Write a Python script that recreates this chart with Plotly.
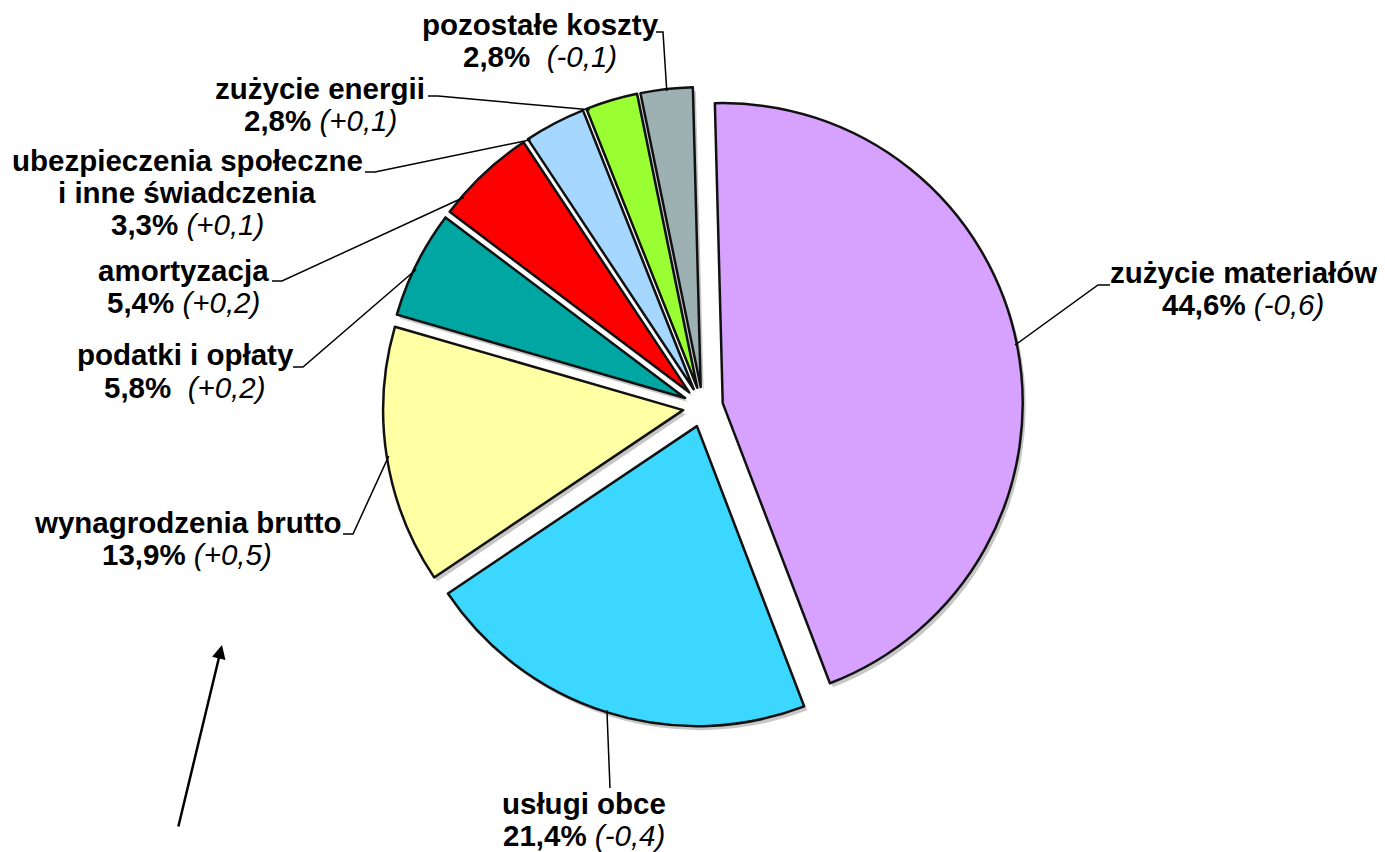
"""
Struktura kosztów - wykres kołowy z etykietami i liniami odniesienia
"""

import numpy as np
import plotly.graph_objects as go

W, H = 1385, 852
OFF = 8  # domyślny margines strony (body) przesuwa wykres

# dane
categories = ["zużycie materiałów", "usługi obce", "wynagrodzenia brutto",
              "podatki i opłaty", "amortyzacja",
              "ubezpieczenia społeczne i inne świadczenia",
              "zużycie energii", "pozostałe koszty"]
shares = [44.6, 21.4, 13.9, 5.8, 5.4, 3.3, 2.8, 2.8]
changes = ["-0,6", "-0,4", "+0,5", "+0,2", "+0,2", "+0,1", "+0,1", "-0,1"]
name_lines = [["zużycie materiałów"], ["usługi obce"], ["wynagrodzenia brutto"],
              ["podatki i opłaty"], ["amortyzacja"],
              ["ubezpieczenia społeczne", "i inne świadczenia"],
              ["zużycie energii"], ["pozostałe koszty"]]
pct_gap = ["", "", "", "&nbsp;", "", "", "", "&nbsp;"]

colors = ["#D6A2FE", "#3CD7FF", "#FFFFA3", "#00A6A2",
          "#FF0000", "#A6D8FF", "#99FF33", "#9DB1B3"]

# geometria wykresu (piksele okna)
cx, cy = 703, 407
radius = 300
pull = 0.067
rotation = -1.5

# położenie etykiet: środek pierwszej linii, punkt startu linii odniesienia
label_pos = [(1243, 272), (584, 803), (187, 522), (185, 355),
             (183, 270), (187, 160), (320, 88), (540, 24)]
leader_start = [(1110, 285), (610, 788), (343, 534), (293, 367),
                (272, 281), (365, 172), (428, 96), (656, 32)]
leader_elbow = [(1098, 285), None, (353, 534), (303, 367),
                (282, 281), (375, 172), (438, 96), (663, 32)]
# miejsce zaczepienia na łuku (ułamek rozpiętości wycinka)
leader_frac = [0.5, 0.5, 0.5, 0.45, 0.2, 0.03, 0.05, 0.5]
line_step = 32


def px(x):
    return (x - OFF) / W


def py(y):
    return 1 - (y - OFF) / H


box = radius * (1 + pull)
fig = go.Figure()

# lekki cień pod wykresem
fig.add_trace(go.Pie(
    values=shares, labels=categories, sort=False, direction="clockwise",
    rotation=rotation, pull=[pull] * len(shares), textinfo="none",
    hoverinfo="skip", showlegend=False,
    marker=dict(colors=["rgba(0,0,0,0.22)"] * len(shares), line=dict(width=0)),
    domain=dict(x=[px(cx + 3 - box), px(cx + 3 + box)],
                y=[py(cy + 4 + box), py(cy + 4 - box)]),
))

fig.add_trace(go.Pie(
    values=shares, labels=categories, sort=False, direction="clockwise",
    rotation=rotation, pull=[pull] * len(shares), textinfo="none",
    hoverinfo="label+percent", showlegend=False,
    marker=dict(colors=colors, line=dict(color="#111111", width=2.5)),
    domain=dict(x=[px(cx - box), px(cx + box)],
                y=[py(cy + box), py(cy - box)]),
))

# kąty wycinków
total = sum(shares)
bounds = rotation + np.cumsum([0] + shares) / total * 360
mids = (bounds[:-1] + bounds[1:]) / 2
spans = bounds[1:] - bounds[:-1]

font = dict(family="Liberation Sans, Arial, sans-serif", size=29.5, color="black")

for i, lines in enumerate(name_lines):
    x0, y0 = label_pos[i]
    pct = f"{shares[i]:.1f}".replace(".", ",")
    texts = [f"<b>{t}</b>" for t in lines]
    texts.append(f"<b>{pct}%</b>{pct_gap[i]} <i>({changes[i]})</i>")
    for k, t in enumerate(texts):
        fig.add_annotation(x=px(x0), y=py(y0 + k * line_step), xref="paper", yref="paper",
                           text=t, showarrow=False, xanchor="center", yanchor="middle",
                           font=font)

    # linia odniesienia do zewnętrznego łuku wycinka
    m = np.deg2rad(mids[i])
    a = np.deg2rad(bounds[i] + leader_frac[i] * spans[i])
    shift = radius * pull
    rr = radius - 2
    ex = cx + shift * np.sin(m) + rr * np.sin(a)
    ey = cy - shift * np.cos(m) - rr * np.cos(a)
    pts = [leader_start[i]]
    if leader_elbow[i] is not None:
        pts.append(leader_elbow[i])
    pts.append((ex, ey))
    path = "M " + " L ".join(f"{px(x):.5f},{py(y):.5f}" for x, y in pts)
    fig.add_shape(type="path", path=path, xref="paper", yref="paper",
                  line=dict(color="black", width=1.5))

# strzałka
fig.add_annotation(x=px(222), y=py(645), xref="paper", yref="paper",
                   ax=178 - 222, ay=828 - 645, text="", showarrow=True,
                   arrowhead=2, arrowsize=1.1, arrowwidth=2.5, arrowcolor="black")

fig.update_layout(
    width=W, height=H,
    margin=dict(l=0, r=0, t=0, b=0),
    paper_bgcolor="white",
    plot_bgcolor="white",
    showlegend=False,
)

fig.write_html("out.html")
